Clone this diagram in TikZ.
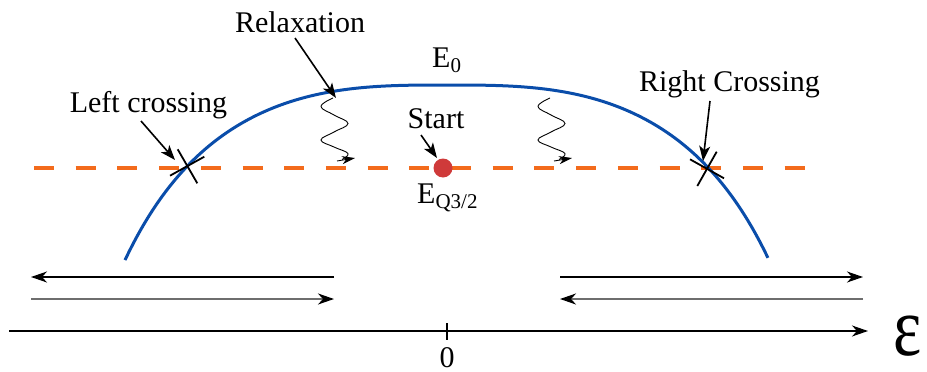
\documentclass[tikz,border=0pt]{standalone}
\usepackage{fontspec}
\setmainfont{Liberation Serif}
\usetikzlibrary{arrows.meta}
\definecolor{curveblue}{HTML}{0A4DAA}
\definecolor{levelorange}{HTML}{F36B1C}
\definecolor{dotred}{HTML}{CF3A3A}
\definecolor{lowgray}{HTML}{6E6E6E}
\begin{document}
\begin{tikzpicture}[x=1pt,y=-1pt,
  lbl/.style={font=\fontsize{30}{30}\selectfont, inner sep=0pt, anchor=base},
  ptr/.style={line width=1.6pt, -{Stealth[length=15pt,width=11pt,inset=4pt]}},
  crossmark/.style={line width=1.8pt},
  wig/.style={line width=0.9pt},
  wigtip/.style={line width=0.9pt, -{Stealth[length=13pt,width=8pt,inset=4pt]}},
  hline/.style={line width=1.5pt},
  harrow/.style={-{Stealth[length=16pt,width=11pt,inset=5pt,color=black]}},
]
\useasboundingbox (0,0) rectangle (927,372);

% dashed level
\draw[levelorange, line width=4pt, dash pattern=on 20pt off 21.7pt] (34,168) -- (806,168);

% blue curve
\draw[curveblue, line width=3pt, line join=round] plot[domain=-3.22:3.21, samples=160]
  ({447+100*\x}, {85+4.314*abs(\x)^3+0.002686*abs(\x)^8});

% crossing marks
\draw[crossmark] (177.7,149.3) -- (197.3,183.3);
\draw[crossmark] (170,175.7) -- (204.3,156.7);
\draw[crossmark] (716.7,151.7) -- (697.3,186);
\draw[crossmark] (690,159.3) -- (724,178.3);

% start dot
\node[circle, fill=dotred, minimum size=19pt, inner sep=0pt] (start) at (443,168) {};

% labels
\node[lbl] (relax) at (300,32) {Relaxation};
\node[lbl] (left) at (148.5,112) {Left crossing};
\node[lbl] (right) at (729.5,91) {Right Crossing};
\node[lbl] (starttxt) at (436,128) {Start};
\node[lbl, anchor=base west] (ezero) at (432,67) {E\textsubscript{0}};
\node[lbl, anchor=base west] (eq) at (417,203) {E\textsubscript{Q3/2}};

% pointer arrows
\coordinate (relaxA) at (295,38);
\coordinate (relaxB) at (336,98);
\draw[ptr] (relaxA) -- (relaxB);
\coordinate (leftA) at (141,121);
\coordinate (leftB) at (175,160);
\draw[ptr] (leftA) -- (leftB);
\coordinate (rightA) at (710,101);
\coordinate (rightB) at (703,161);
\draw[ptr] (rightA) -- (rightB);
\coordinate (startA) at (421,135);
\coordinate (startB) at (437,158);
\draw[ptr] (startA) -- (startB);

% relaxation wiggles
\foreach \xo/\nm in {333/wl, 550/wr}{
  \draw[wig] plot[smooth, tension=0.7] coordinates {
    (\xo,98) (\xo-12,106.5) (\xo+1,115) (\xo+15,123.5) (\xo+1,132)
    (\xo-12,140) (\xo+1,147) (\xo+15,153.5) (\xo+9,159.5)};
  \coordinate (\nm a) at (\xo+4,161);
  \coordinate (\nm b) at (\xo+22,158);
  \draw[wigtip] (\nm a) -- (\nm b);
}

% bottom arrows
\coordinate (la1) at (334,277);
\coordinate (la2) at (31,277);
\draw[hline, harrow] (la1) -- (la2);
\coordinate (lb1) at (31,299);
\coordinate (lb2) at (334,299);
\draw[hline, lowgray, line width=2pt, harrow] (lb1) -- (lb2);
\coordinate (ra1) at (560,277);
\coordinate (ra2) at (863,277);
\draw[hline, harrow] (ra1) -- (ra2);
\coordinate (rb1) at (863,299);
\coordinate (rb2) at (560,299);
\draw[hline, lowgray, line width=2pt, harrow] (rb1) -- (rb2);

% axis
\coordinate (ax1) at (9,331);
\coordinate (ax2) at (868,331);
\draw[hline, harrow] (ax1) -- (ax2);
\coordinate (tk1) at (447,323);
\coordinate (tk2) at (447,340);
\draw[line width=1.3pt] (tk1) -- (tk2);
\node[lbl] (zero) at (447,367) {0};
\node[font=\fontsize{84}{84}\selectfont, inner sep=0pt, anchor=base, xscale=0.8] (eps) at (908,355) {ε};
\end{tikzpicture}
\end{document}
